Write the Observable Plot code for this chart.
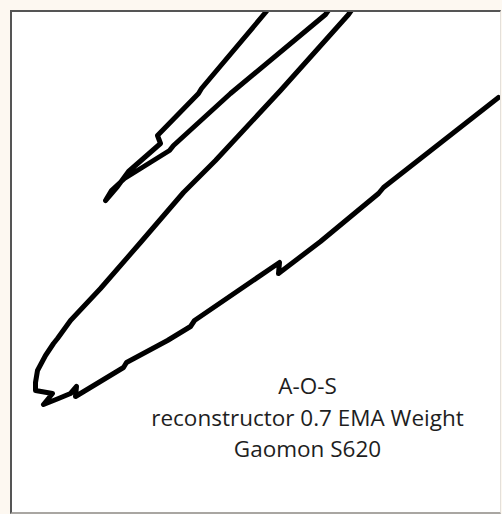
<!DOCTYPE html>
<html>
<head>
<meta charset="utf-8">
<script src="https://cdn.jsdelivr.net/npm/d3@7"></script>
<script src="https://cdn.jsdelivr.net/npm/@observablehq/plot@0.6"></script>
<style>
  html, body { margin: 0; padding: 0; background: #fdf8f1; }
  #panel {
    position: absolute; left: 10px; top: 10px;
    width: 488px; height: 500px;
    background: #fff;
    border-top: 2px solid #555; border-left: 2px solid #555;
    border-right: 1px solid #e4e0da; border-bottom: 2px solid #a9a6a2;
  }
  #panel svg { display: block; }
</style>
</head>
<body>
<div id="panel"></div>
<script>
// Pen stroke samples (canvas pixel coordinates, y downward)
const strokeX = [274, 265, 201, 198, 157, 160, 128, 117, 105, 111, 124, 169, 173, 230, 325, 335,
                 342, 358,
                 348, 280, 215, 183, 140, 100, 70, 57, 53, 45, 37, 35, 35, 52, 43, 58, 70, 76, 75, 123, 126, 167, 190, 194, 279, 278, 320, 378, 383, 498];
const strokeY = [0, 12, 88, 93, 135, 143, 171, 186, 200, 190, 178, 150, 145, 93, 14, 0,
                 -20, 0,
                 14, 90, 160, 192, 242, 288, 320, 338, 343, 355, 370, 382, 390, 393, 404, 398, 393, 386, 396, 367, 362, 340, 326, 320, 262, 273, 241, 193, 187, 97];
const labelLines = ["A-O-S", "reconstructor 0.7 EMA Weight", "Gaomon S620"];

const pts = strokeX.map((x, i) => ({x, y: strokeY[i]}));

const chart = Plot.plot({
  width: 488,
  height: 500,
  margin: 0,
  x: {domain: [12, 500], range: [0, 488], axis: null},
  y: {domain: [12, 512], range: [0, 500], axis: null},
  marks: [
    Plot.line(pts, {x: "x", y: "y", stroke: "#000", strokeWidth: 5, strokeLinejoin: "round", strokeLinecap: "round", curve: "linear", clip: true}),
    Plot.text([labelLines.join("\n")], {x: 307, y: 415, text: d => d, fontSize: 22.5, lineHeight: 1.39, fill: "#1e1e1e", textAnchor: "middle", fontFamily: "Open Sans"})
  ]
});
chart.style.background = "#fff";
document.getElementById("panel").appendChild(chart);
</script>
</body>
</html>
